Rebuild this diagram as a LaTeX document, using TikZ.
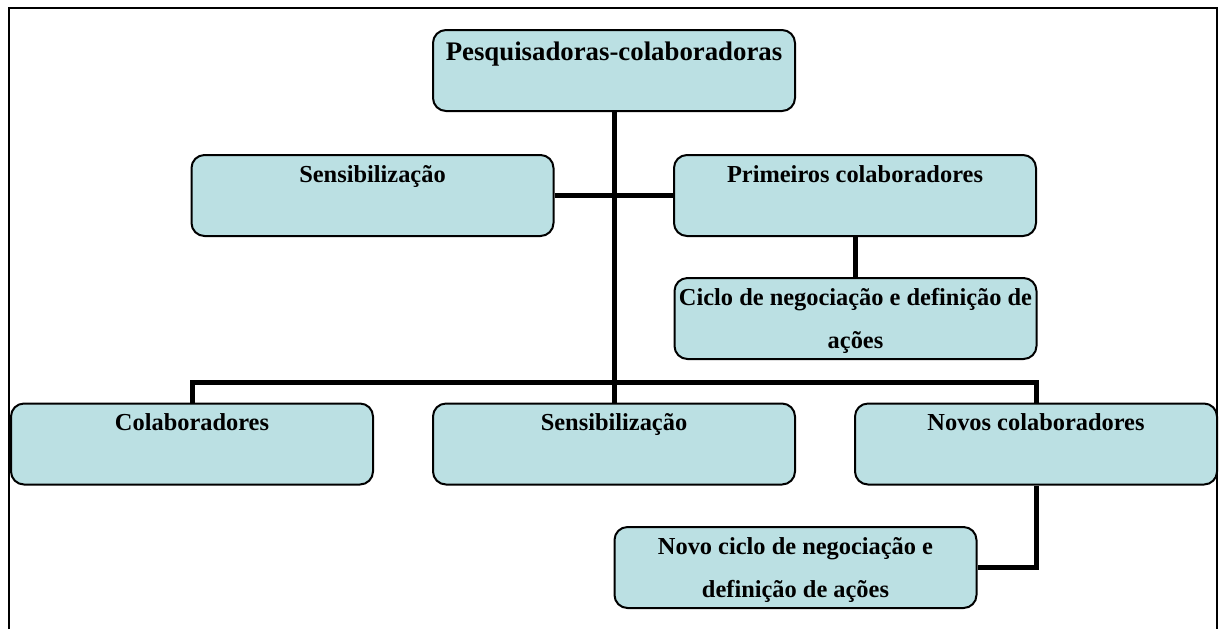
\documentclass[tikz,border=0pt]{standalone}
\usepackage{fontspec}
\setmainfont{Liberation Serif}
\definecolor{caixaazul}{RGB}{187,224,227}
\tikzset{
  caixa/.style={rectangle,rounded corners=6.5pt,draw,line width=1pt,fill=caixaazul,minimum width=181pt,minimum height=40.5pt,inner sep=0pt},
  rotulo/.style={anchor=north,text width=186pt,align=flush center,inner xsep=0pt,inner ysep=5.4pt,font=\fontsize{12.2}{21.5}\selectfont\bfseries},
  rotulotopo/.style={rotulo,inner ysep=6.2pt,font=\fontsize{13.4}{21.5}\selectfont\bfseries},
  liga/.style={line width=2.5pt}
}
\begin{document}
\begin{tikzpicture}[x=0.5pt,y=-0.5pt]
  \useasboundingbox (0,0) rectangle (1219,629);
  \draw[line width=0.75pt] (9,629) -- (9,8) -- (1217,8) -- (1217,629);
  \node (Topo) [caixa] at (614,70.5) {};
  \node (SensA) [caixa] at (372.5,195.5) {};
  \node (Primeiros) [caixa] at (855,195.5) {};
  \node (Ciclo) [caixa] at (855.5,318.5) {};
  \node (Colaboradores) [caixa] at (192,444) {};
  \node (SensB) [caixa] at (614,444) {};
  \node (Novos) [caixa] at (1036,444) {};
  \node (NovoCiclo) [caixa] at (795.5,567.5) {};
  \coordinate (Barra) at (614,382);
  % connectors
  \draw[liga] (Topo.south) -- (Barra);
  \draw[liga] (SensA.east) -- (Primeiros.west);
  \draw[liga] (Primeiros.south) -- (Primeiros.south |- Ciclo.north);
  \draw[liga] (Colaboradores.north) |- (Novos.north |- Barra) -- (Novos.north);
  \draw[liga] (Barra) -- (SensB.north);
  \draw[liga] (Novos.south) |- (NovoCiclo.east);
  % texts
  \node [rotulotopo] at (Topo.north) {Pesquisadoras-colaboradoras};
  \node [rotulo] at (SensA.north) {Sensibilização};
  \node [rotulo] at (Primeiros.north) {Primeiros colaboradores};
  \node [rotulo] at (Ciclo.north) {Ciclo de negociação e definição de\\ações};
  \node [rotulo] at (Colaboradores.north) {Colaboradores};
  \node [rotulo] at (SensB.north) {Sensibilização};
  \node [rotulo] at (Novos.north) {Novos colaboradores};
  \node [rotulo] at (NovoCiclo.north) {Novo ciclo de negociação e\\definição de ações};
\end{tikzpicture}
\end{document}
